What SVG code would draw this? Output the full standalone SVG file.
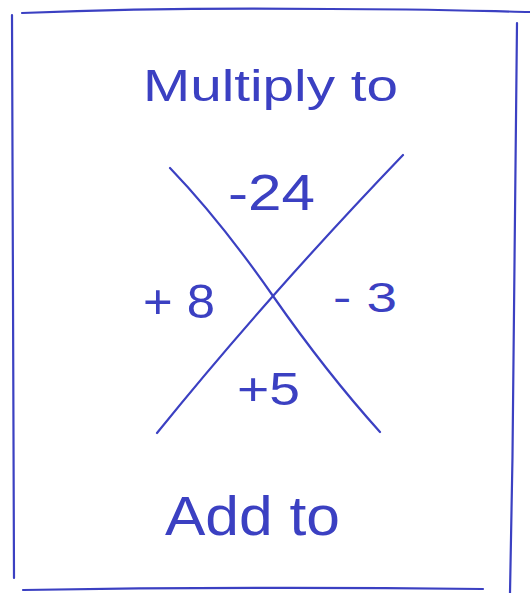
<svg xmlns="http://www.w3.org/2000/svg" width="530" height="593" viewBox="0 0 530 593">
<style>
.ink{stroke:#3b40c2;stroke-width:2.2;fill:none;stroke-linecap:round}
.t{fill:#3b40c2;font-family:"Liberation Sans",Arial,sans-serif;font-weight:normal}
</style>
<rect width="530" height="593" fill="#ffffff"/>
<g id="frame">
<path class="ink" d="M22,13 C120,9 240,8 330,9 C420,9 480,11 530,12"/>
<path class="ink" d="M12,15 C13,150 14,350 14,578"/>
<path class="ink" d="M517,23 C516,200 514,400 510,593"/>
<path class="ink" d="M23,590 C150,588 300,587 483,589"/>
</g>
<g id="connectors">
<path class="ink" d="M170,168 Q220,220 273,296 T380,432"/>
<path class="ink" d="M157,433 Q212,365 273,296 T403,155"/>
</g>
<g id="title"><text class="t" x="143" y="101" font-size="44" textLength="255" lengthAdjust="spacingAndGlyphs">Multiply to</text></g>
<g id="top"><text class="t" x="228" y="210" font-size="50" textLength="87" lengthAdjust="spacingAndGlyphs">-24</text></g>
<g id="left"><text class="t" x="143" y="318" font-size="48" textLength="72" lengthAdjust="spacingAndGlyphs">+ 8</text></g>
<g id="right"><text class="t" x="333" y="312" font-size="42" textLength="64" lengthAdjust="spacingAndGlyphs">- 3</text></g>
<g id="bottom"><text class="t" x="237" y="405" font-size="46" textLength="63" lengthAdjust="spacingAndGlyphs">+5</text></g>
<g id="footer"><text class="t" x="165" y="535" font-size="56" textLength="175" lengthAdjust="spacingAndGlyphs">Add to</text></g>
</svg>
